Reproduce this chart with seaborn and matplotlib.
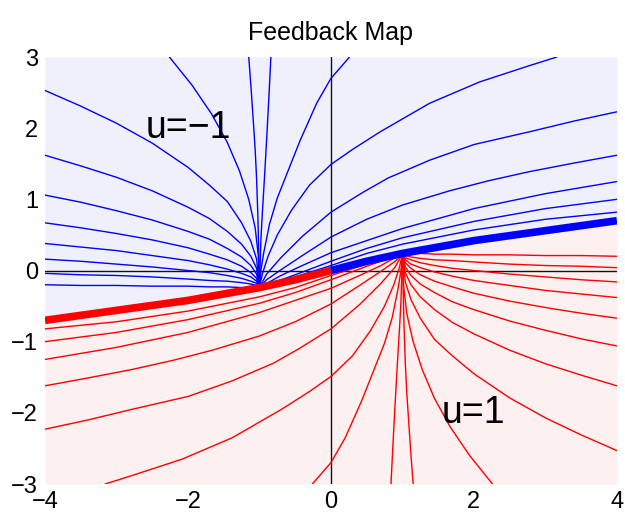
import pandas as pd
import matplotlib
matplotlib.use("Agg")
import matplotlib.pyplot as plt
import seaborn as sns

# thick switching curve
switch_red = [(-4.0, -0.70), (-3.5, -0.63), (-3.0, -0.56), (-2.5, -0.49), (-2.0, -0.42), (-1.5, -0.33),
              (-1.0, -0.24), (-0.5, -0.13), (0.0, 0.0)]
switch_blue = [(0.0, 0.0), (0.5, 0.13), (1.0, 0.24), (1.5, 0.33), (2.0, 0.42), (2.5, 0.49),
               (3.0, 0.56), (3.5, 0.63), (4.0, 0.70)]

# u = -1 (blue) trajectories that leave through the left edge, sampled at these x
left_x = [-4.0, -3.5, -3.0, -2.5, -2.0, -1.7, -1.45, -1.25, -1.12, -1.04, -1.0]
blue_l1 = [-0.20, -0.21, -0.21, -0.22, -0.22, -0.23, -0.23, -0.24, -0.24, -0.24, -0.24]
blue_l2 = [-0.04, -0.06, -0.07, -0.09, -0.12, -0.14, -0.15, -0.17, -0.19, -0.21, -0.24]
blue_l3 = [0.16, 0.13, 0.09, 0.05, 0.00, -0.03, -0.07, -0.11, -0.15, -0.18, -0.24]
blue_l4 = [0.38, 0.33, 0.28, 0.21, 0.14, 0.08, 0.02, -0.04, -0.09, -0.15, -0.24]
blue_l5 = [0.67, 0.60, 0.52, 0.43, 0.32, 0.23, 0.15, 0.06, -0.03, -0.11, -0.24]
blue_l6 = [1.06, 0.96, 0.84, 0.71, 0.55, 0.44, 0.31, 0.19, 0.07, -0.05, -0.24]
blue_l7 = [1.62, 1.47, 1.31, 1.12, 0.89, 0.73, 0.55, 0.37, 0.20, 0.03, -0.24]
blue_l8 = [2.53, 2.31, 2.07, 1.79, 1.45, 1.20, 0.97, 0.67, 0.41, 0.16, -0.24]

# blue trajectories leaving through the top or the right edge, as (x, y) points
blue_t1 = [(-2.26, 3.0), (-1.94, 2.6), (-1.67, 2.2), (-1.45, 1.8), (-1.28, 1.4), (-1.15, 1.0),
           (-1.06, 0.6), (-1.015, 0.2), (-1.0, -0.24)]
blue_t2 = [(-1.15, 3.0), (-1.12, 2.6), (-1.09, 2.16), (-1.06, 1.7), (-1.04, 1.29), (-1.02, 0.7), (-1.0, -0.24)]
blue_t3 = [(-0.84, 3.0), (-0.87, 2.4), (-0.90, 1.83), (-0.93, 1.3), (-0.96, 0.8), (-0.98, 0.43), (-1.0, -0.24)]
blue_t4 = [(0.26, 3.0), (0.0, 2.70), (-0.2, 2.35), (-0.43, 1.83), (-0.6, 1.40), (-0.75, 1.02),
           (-0.86, 0.65), (-0.94, 0.25), (-0.98, 0.0), (-1.0, -0.24)]
blue_t5 = [(3.16, 3.0), (2.78, 2.88), (2.08, 2.65), (1.38, 2.35), (0.69, 1.95), (0.3, 1.70), (0.0, 1.49),
           (-0.3, 1.20), (-0.55, 0.85), (-0.75, 0.50), (-0.88, 0.2), (-0.96, -0.05), (-1.0, -0.24)]
blue_r1 = [(4.0, 2.23), (3.4, 2.10), (2.78, 1.95), (2.0, 1.77), (1.38, 1.55), (0.8, 1.30), (0.45, 1.10),
           (0.0, 0.82), (-0.4, 0.48), (-0.7, 0.18), (-0.9, -0.05), (-1.0, -0.24)]
blue_r2 = [(4.0, 1.62), (3.4, 1.51), (2.78, 1.39), (2.2, 1.26), (1.66, 1.12), (1.0, 0.92), (0.5, 0.72),
           (0.0, 0.47), (-0.4, 0.21), (-0.7, 0.01), (-0.9, -0.13), (-1.0, -0.24)]
blue_r3 = [(4.0, 1.25), (3.0, 1.08), (2.0, 0.87), (1.0, 0.59), (0.5, 0.42), (0.0, 0.25), (-0.4, 0.07),
           (-0.7, -0.07), (-1.0, -0.24)]
blue_r4 = [(4.0, 1.00), (3.0, 0.87), (2.0, 0.69), (1.0, 0.46), (0.5, 0.31), (0.0, 0.13), (-0.5, -0.06),
           (-1.0, -0.24)]
blue_r5 = [(4.0, 0.82), (3.0, 0.72), (2.0, 0.57), (1.0, 0.37), (0.5, 0.24), (0.0, 0.07), (-0.5, -0.09),
           (-1.0, -0.24)]

# u = 1 (red) trajectories that leave through the right edge, sampled at these x
right_x = [4.0, 3.5, 3.0, 2.5, 2.0, 1.7, 1.45, 1.25, 1.12, 1.04, 1.0]
red_l1 = [0.20, 0.21, 0.21, 0.22, 0.22, 0.23, 0.23, 0.24, 0.24, 0.24, 0.24]
red_l2 = [0.04, 0.06, 0.07, 0.09, 0.12, 0.14, 0.15, 0.17, 0.19, 0.21, 0.24]
red_l3 = [-0.16, -0.13, -0.09, -0.05, 0.00, 0.03, 0.07, 0.11, 0.15, 0.18, 0.24]
red_l4 = [-0.38, -0.33, -0.28, -0.21, -0.14, -0.08, -0.02, 0.04, 0.09, 0.15, 0.24]
red_l5 = [-0.67, -0.60, -0.52, -0.43, -0.32, -0.23, -0.15, -0.06, 0.03, 0.11, 0.24]
red_l6 = [-1.06, -0.96, -0.84, -0.71, -0.55, -0.44, -0.31, -0.19, -0.07, 0.05, 0.24]
red_l7 = [-1.62, -1.47, -1.31, -1.12, -0.89, -0.73, -0.55, -0.37, -0.20, -0.03, 0.24]
red_l8 = [-2.53, -2.31, -2.07, -1.79, -1.45, -1.20, -0.97, -0.67, -0.41, -0.16, 0.24]

# red trajectories leaving through the bottom or the left edge
red_t1 = [(2.26, -3.0), (1.94, -2.6), (1.67, -2.2), (1.45, -1.8), (1.28, -1.4), (1.15, -1.0),
          (1.06, -0.6), (1.015, -0.2), (1.0, 0.24)]
red_t2 = [(1.15, -3.0), (1.12, -2.6), (1.09, -2.16), (1.06, -1.7), (1.04, -1.29), (1.02, -0.7), (1.0, 0.24)]
red_t3 = [(0.84, -3.0), (0.87, -2.4), (0.90, -1.83), (0.93, -1.3), (0.96, -0.8), (0.98, -0.43), (1.0, 0.24)]
red_t4 = [(-0.26, -3.0), (0.0, -2.70), (0.2, -2.35), (0.43, -1.83), (0.6, -1.40), (0.75, -1.02),
          (0.86, -0.65), (0.94, -0.25), (0.98, 0.0), (1.0, 0.24)]
red_t5 = [(-3.16, -3.0), (-2.78, -2.88), (-2.08, -2.65), (-1.38, -2.35), (-0.69, -1.95), (-0.3, -1.70),
          (0.0, -1.49), (0.3, -1.20), (0.55, -0.85), (0.75, -0.50), (0.88, -0.2), (0.96, 0.05), (1.0, 0.24)]
red_r1 = [(-4.0, -2.23), (-3.4, -2.10), (-2.78, -1.95), (-2.0, -1.77), (-1.38, -1.55), (-0.8, -1.30),
          (-0.45, -1.10), (0.0, -0.82), (0.4, -0.48), (0.7, -0.18), (0.9, 0.05), (1.0, 0.24)]
red_r2 = [(-4.0, -1.62), (-3.4, -1.51), (-2.78, -1.39), (-2.2, -1.26), (-1.66, -1.12), (-1.0, -0.92),
          (-0.5, -0.72), (0.0, -0.47), (0.4, -0.21), (0.7, -0.01), (0.9, 0.13), (1.0, 0.24)]
red_r3 = [(-4.0, -1.25), (-3.0, -1.08), (-2.0, -0.87), (-1.0, -0.59), (-0.5, -0.42), (0.0, -0.25),
          (0.4, -0.07), (0.7, 0.07), (1.0, 0.24)]
red_r4 = [(-4.0, -1.00), (-3.0, -0.87), (-2.0, -0.69), (-1.0, -0.46), (-0.5, -0.31), (0.0, -0.13),
          (0.5, 0.06), (1.0, 0.24)]
red_r5 = [(-4.0, -0.82), (-3.0, -0.72), (-2.0, -0.57), (-1.0, -0.37), (-0.5, -0.24), (0.0, -0.07),
          (0.5, 0.09), (1.0, 0.24)]

blue_left = [blue_l1, blue_l2, blue_l3, blue_l4, blue_l5, blue_l6, blue_l7, blue_l8]
blue_other = [blue_t1, blue_t2, blue_t3, blue_t4, blue_t5, blue_r1, blue_r2, blue_r3, blue_r4, blue_r5]
red_left = [red_l1, red_l2, red_l3, red_l4, red_l5, red_l6, red_l7, red_l8]
red_other = [red_t1, red_t2, red_t3, red_t4, red_t5, red_r1, red_r2, red_r3, red_r4, red_r5]


def to_frame(curves, name):
    rows = []
    for i, c in enumerate(curves):
        for k, (x, y) in enumerate(c):
            rows.append({"x": x, "y": y, "curve": f"{name}{i}", "order": k})
    return pd.DataFrame(rows)


blue_all = [list(zip(left_x, ys)) for ys in blue_left] + blue_other
red_all = [list(zip(right_x, ys)) for ys in red_left] + red_other

df_blue = to_frame(blue_all, "b")
df_red = to_frame(red_all, "r")
df_sw_red = to_frame([switch_red], "sr")
df_sw_blue = to_frame([switch_blue], "sb")

sns.set_style("white")
plt.rcParams['font.family'] = ['Liberation Sans', 'DejaVu Sans']
plt.rcParams['text.color'] = 'black'
plt.rcParams['xtick.color'] = 'black'
plt.rcParams['ytick.color'] = 'black'

fig, ax = plt.subplots(figsize=(6.25, 5.16), dpi=100)
fig.subplots_adjust(left=0.072, right=0.987, bottom=0.062, top=0.8895)

# shaded regions on both sides of the switching curve
sw = switch_red + switch_blue[1:]
sx = [p[0] for p in sw]
sy = [p[1] for p in sw]
ax.fill_between(sx, sy, 3, color='#f0f0fc', lw=0, zorder=0)
ax.fill_between(sx, -3, sy, color='#fdf0f0', lw=0, zorder=0)

ax.axhline(0, color='#111111', lw=1.0, zorder=1)
ax.axvline(0, color='#111111', lw=1.0, zorder=1)

sns.lineplot(data=df_blue, x="x", y="y", units="curve", estimator=None, sort=False,
             color='#0000ff', lw=1.0, ax=ax, zorder=2)
sns.lineplot(data=df_red, x="x", y="y", units="curve", estimator=None, sort=False,
             color='#ff0000', lw=1.0, ax=ax, zorder=2)
sns.lineplot(data=df_sw_red, x="x", y="y", units="curve", estimator=None, sort=False,
             color='#ff0000', lw=5.5, ax=ax, zorder=3, solid_capstyle='butt')
sns.lineplot(data=df_sw_blue, x="x", y="y", units="curve", estimator=None, sort=False,
             color='#0000ff', lw=5.5, ax=ax, zorder=3, solid_capstyle='butt')

ax.text(-2, 2, "u=\u22121", fontsize=27, ha='center', va='center', color='black', zorder=4)
ax.text(2, -2, "u=1", fontsize=27, ha='center', va='center', color='black', zorder=4)

ax.set_xlim(-4, 4)
ax.set_ylim(-3, 3)
ax.set_xticks([-4, -2, 0, 2, 4])
ax.set_yticks([-3, -2, -1, 0, 1, 2, 3])
ax.tick_params(length=0, labelsize=17, pad=5, colors='black')
for s in ax.spines.values():
    s.set_visible(False)
ax.set_xlabel("")
ax.set_ylabel("")
ax.set_title("Feedback Map", fontsize=18, pad=12, color='black')

fig.savefig("out.png", dpi=100)
